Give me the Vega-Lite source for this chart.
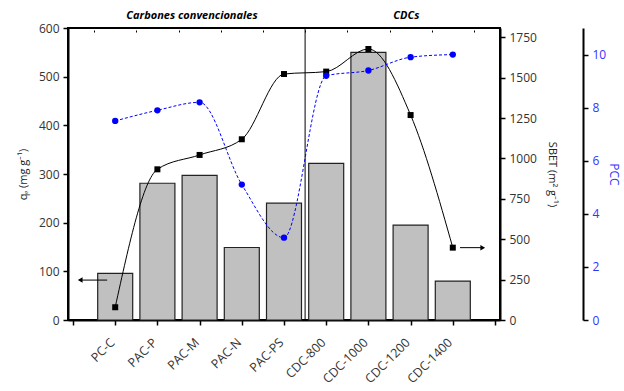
{
  "$schema": "https://vega.github.io/schema/vega-lite/v6.json",
  "width": 432,
  "height": 292,
  "autosize": {"type": "none"},
  "padding": {"left": 68, "top": 28, "right": 124, "bottom": 71},
  "background": "white",
  "config": {
    "font": "Open Sans",
    "view": {"stroke": "black", "strokeWidth": 2},
    "axis": {
      "domainColor": "black",
      "domainWidth": 2,
      "tickColor": "black",
      "tickWidth": 1.5,
      "labelFont": "Open Sans",
      "labelFontSize": 12,
      "labelColor": "#333333",
      "titleFont": "Open Sans",
      "titleFontSize": 11,
      "titleFontWeight": "normal",
      "titleColor": "#222222",
      "grid": false
    }
  },
  "data": {
    "values": [
      {"i": 1, "name": "PC-C", "qe": 96, "sbet": 79, "pcc": 7.5},
      {"i": 2, "name": "PAC-P", "qe": 281, "sbet": 933, "pcc": 7.9},
      {"i": 3, "name": "PAC-M", "qe": 297, "sbet": 1022, "pcc": 8.2},
      {"i": 4, "name": "PAC-N", "qe": 149, "sbet": 1119, "pcc": 5.1},
      {"i": 5, "name": "PAC-PS", "qe": 240, "sbet": 1523, "pcc": 3.1},
      {"i": 6, "name": "CDC-800", "qe": 322, "sbet": 1538, "pcc": 9.2},
      {"i": 7, "name": "CDC-1000", "qe": 550, "sbet": 1678, "pcc": 9.4},
      {"i": 8, "name": "CDC-1200", "qe": 195, "sbet": 1269, "pcc": 9.9},
      {"i": 9, "name": "CDC-1400", "qe": 80, "sbet": 448, "pcc": 10.0}
    ]
  },
  "layer": [
    {
      "layer": [
        {
          "mark": {"type": "bar", "width": 35, "fill": "#c0c0c0", "stroke": "#222222", "strokeWidth": 1.2},
          "encoding": {
            "x": {
              "field": "i",
              "type": "quantitative",
              "title": null,
              "scale": {"domain": [0, 10], "nice": false, "zero": false},
              "axis": {
                "orient": "bottom",
                "values": [0, 0.5, 1, 1.5, 2, 2.5, 3, 3.5, 4, 4.5, 5, 5.5, 6, 6.5, 7, 7.5, 8, 8.5, 9, 9.5, 10],
                "labelExpr": "datum.value % 1 === 0 ? ['', 'PC-C', 'PAC-P', 'PAC-M', 'PAC-N', 'PAC-PS', 'CDC-800', 'CDC-1000', 'CDC-1200', 'CDC-1400', ''][datum.value] : ''",
                "labelAngle": -45,
                "labelAlign": "right",
                "labelBaseline": "middle",
                "labelFontSize": 12.5,
                "labelPadding": 15,
                "labelOffset": -3,
                "labelOverlap": false,
                "labelFlush": false,
                "labelBound": false,
                "tickSize": {"condition": {"test": "datum.value % 1 === 0", "value": 5}, "value": 3}
              }
            },
            "y": {
              "field": "qe",
              "type": "quantitative",
              "title": "qₑ (mg g⁻¹)",
              "scale": {"domain": [0, 600], "nice": false},
              "axis": {
                "orient": "left",
                "titlePadding": 10,
                "format": "d",
                "values": [0, 50, 100, 150, 200, 250, 300, 350, 400, 450, 500, 550, 600],
                "labelExpr": "datum.value % 100 === 0 ? datum.label : ''",
                "labelPadding": 4,
                "tickSize": {"condition": {"test": "datum.value % 100 === 0", "value": 5}, "value": 3}
              }
            }
          }
        },
        {
          "data": {"values": [{"sep": 5.5}]},
          "mark": {"type": "rule", "stroke": "black", "strokeWidth": 1},
          "encoding": {
            "x": {"field": "sep", "type": "quantitative", "title": null}
          }
        },
        {
          "data": {"values": [
            {"label": "Carbones convencionales", "xi": 2.82, "yv": 625},
            {"label": "CDCs", "xi": 7.9, "yv": 625}
          ]},
          "mark": {"type": "text", "font": "Open Sans", "fontStyle": "italic", "fontWeight": "bold", "fontSize": 11, "color": "black", "baseline": "middle", "clip": false},
          "encoding": {
            "x": {"field": "xi", "type": "quantitative", "title": null},
            "y": {"field": "yv", "type": "quantitative", "title": "qₑ (mg g⁻¹)"},
            "text": {"field": "label"}
          }
        },
        {
          "data": {"values": [{"x1": 0.2, "x2": 0.81, "yv": 82}]},
          "mark": {"type": "rule", "stroke": "black", "strokeWidth": 1},
          "encoding": {
            "x": {"field": "x1", "type": "quantitative", "title": null},
            "x2": {"field": "x2"},
            "y": {"field": "yv", "type": "quantitative", "title": "qₑ (mg g⁻¹)"}
          }
        },
        {
          "data": {"values": [{"xh": 0.17, "yv": 82}]},
          "mark": {"type": "point", "shape": "triangle-left", "filled": true, "color": "black", "size": 30, "opacity": 1},
          "encoding": {
            "x": {"field": "xh", "type": "quantitative", "title": null},
            "y": {"field": "yv", "type": "quantitative", "title": "qₑ (mg g⁻¹)"}
          }
        }
      ]
    },
    {
      "layer": [
        {
          "mark": {"type": "line", "interpolate": "monotone", "color": "black", "strokeWidth": 1},
          "encoding": {
            "x": {"field": "i", "type": "quantitative", "title": null, "axis": {"orient": "top", "labels": false, "domain": false, "offset": -4, "values": [0.5, 1, 1.5, 2, 2.5, 3, 3.5, 4, 4.5, 5, 5.5, 6, 6.5, 7, 7.5, 8, 8.5, 9, 9.5], "tickSize": {"condition": {"test": "datum.value % 1 === 0", "value": 4}, "value": 2}, "tickWidth": 1}},
            "y": {
              "field": "sbet",
              "type": "quantitative",
              "title": "SBET (m² g⁻¹)",
              "scale": {"domain": [0, 1808], "nice": false},
              "axis": {
                "orient": "right",
                "titlePadding": 10,
                "format": "d",
                "values": [0, 125, 250, 375, 500, 625, 750, 875, 1000, 1125, 1250, 1375, 1500, 1625, 1750],
                "labelExpr": "datum.value % 250 === 0 ? datum.label : ''",
                "labelPadding": 4,
                "tickSize": {"condition": {"test": "datum.value % 250 === 0", "value": 5}, "value": 3}
              }
            }
          }
        },
        {
          "mark": {"type": "point", "shape": "square", "filled": true, "color": "black", "size": 36, "opacity": 1},
          "encoding": {
            "x": {"field": "i", "type": "quantitative", "title": null},
            "y": {"field": "sbet", "type": "quantitative", "title": "SBET (m² g⁻¹)"}
          }
        },
        {
          "data": {"values": [{"x1": 9.17, "x2": 9.68, "yv": 448}]},
          "mark": {"type": "rule", "stroke": "black", "strokeWidth": 1},
          "encoding": {
            "x": {"field": "x1", "type": "quantitative", "title": null},
            "x2": {"field": "x2"},
            "y": {"field": "yv", "type": "quantitative", "title": "SBET (m² g⁻¹)"}
          }
        },
        {
          "data": {"values": [{"xh": 9.71, "yv": 448}]},
          "mark": {"type": "point", "shape": "triangle-right", "filled": true, "color": "black", "size": 30, "opacity": 1},
          "encoding": {
            "x": {"field": "xh", "type": "quantitative", "title": null},
            "y": {"field": "yv", "type": "quantitative", "title": "SBET (m² g⁻¹)"}
          }
        }
      ]
    },
    {
      "layer": [
        {
          "mark": {"type": "line", "interpolate": "monotone", "color": "#0000ff", "strokeWidth": 1, "strokeDash": [3, 2]},
          "encoding": {
            "x": {"field": "i", "type": "quantitative", "axis": null},
            "y": {
              "field": "pcc",
              "type": "quantitative",
              "title": "PCC",
              "scale": {"domain": [0, 11], "nice": false},
              "axis": {
                "orient": "right",
                "offset": 83,
                "titleColor": "#3333ff",
                "titleFontSize": 12,
                "titlePadding": 1,
                "values": [0, 1, 2, 3, 4, 5, 6, 7, 8, 9, 10, 11],
                "labelExpr": "datum.value % 2 === 0 && datum.value <= 10 ? datum.label : ''",
                "labelColor": "#3333ff",
                "labelPadding": 4,
                "tickSize": {"condition": {"test": "datum.value % 2 === 0", "value": 5}, "value": 3}
              }
            }
          }
        },
        {
          "mark": {"type": "point", "shape": "circle", "filled": true, "color": "#0000ff", "size": 40, "opacity": 1},
          "encoding": {
            "x": {"field": "i", "type": "quantitative", "axis": null},
            "y": {"field": "pcc", "type": "quantitative", "title": "PCC"}
          }
        }
      ]
    }
  ],
  "resolve": {"scale": {"y": "independent"}, "axis": {"x": "independent"}}
}
